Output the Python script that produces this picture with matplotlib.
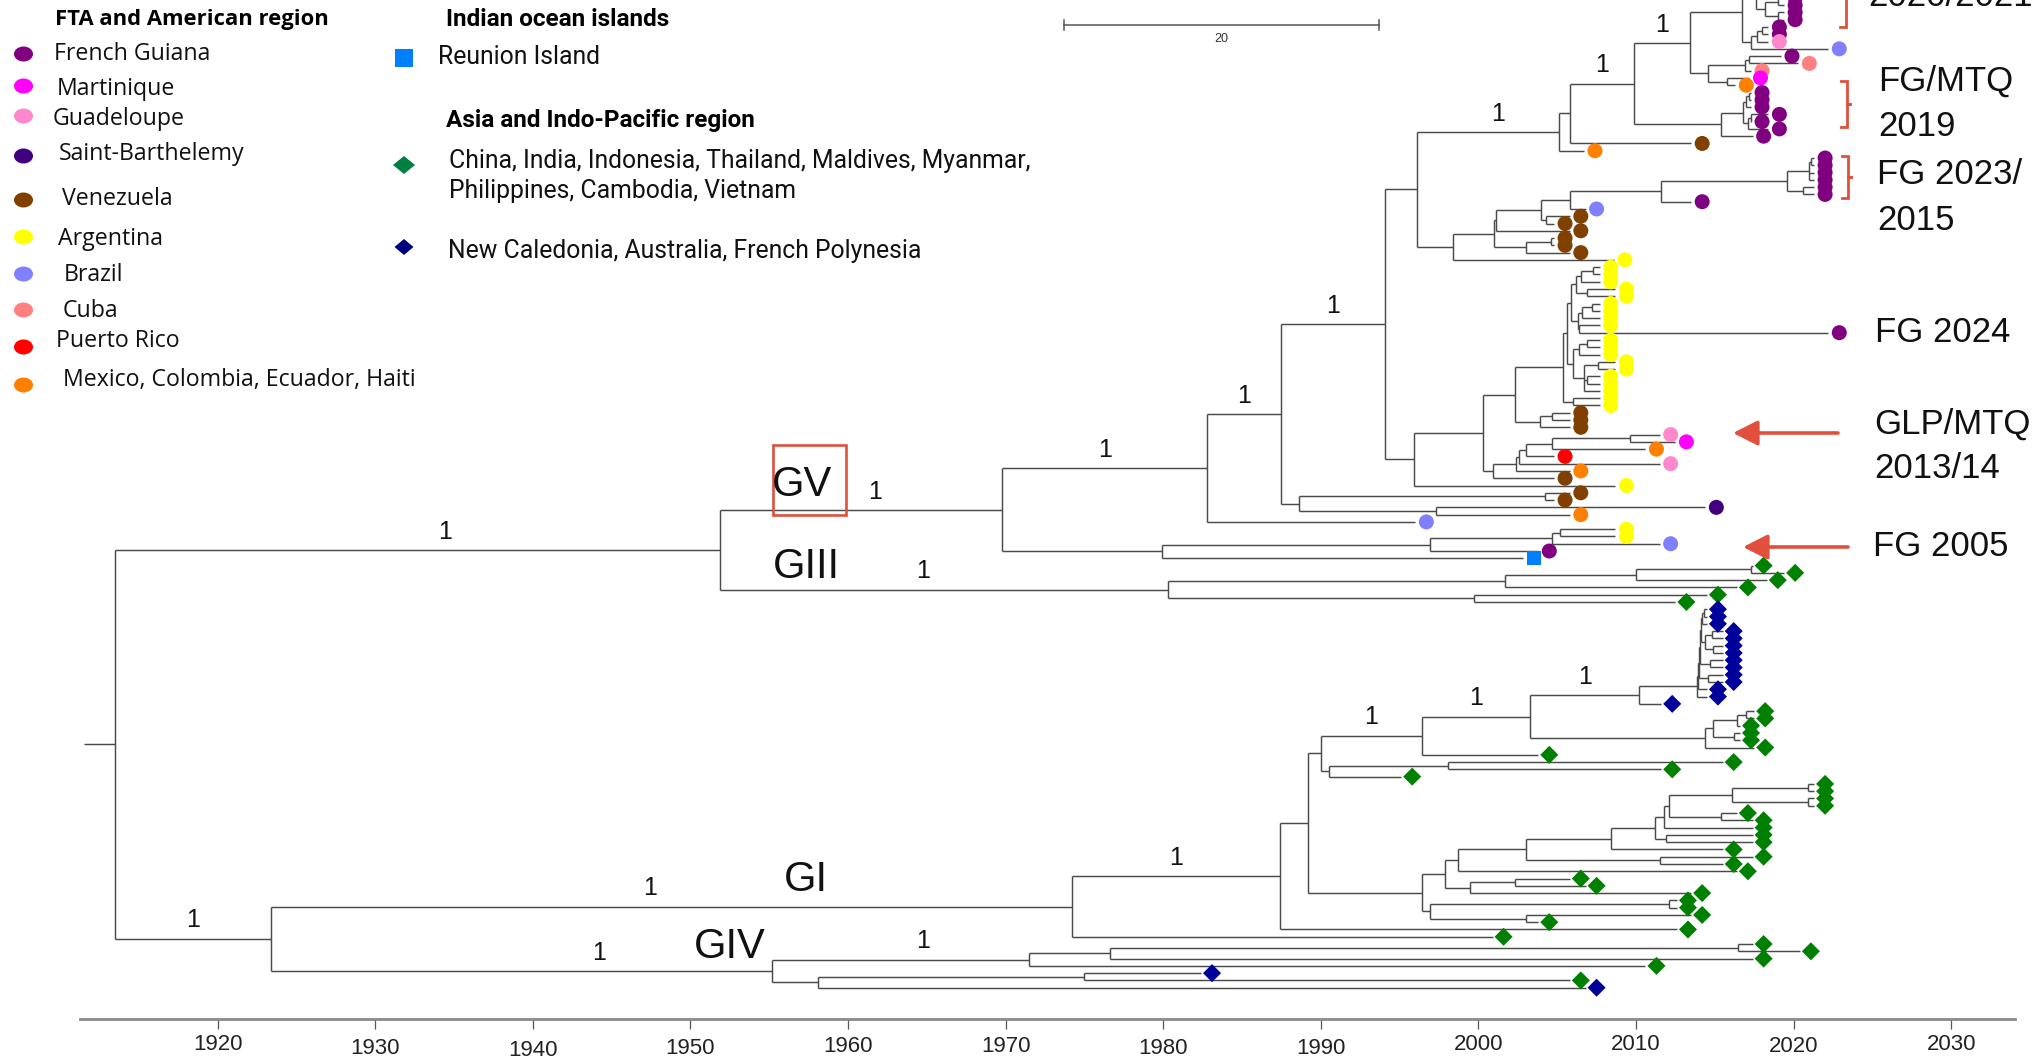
import re
import matplotlib
matplotlib.use("Agg")
import matplotlib.pyplot as plt
import matplotlib.transforms as mtransforms
from matplotlib.collections import LineCollection
from matplotlib.patches import Ellipse, Rectangle, Polygon

# ------------------------------------------------------------------ data
cat_color = {
    'FG': '#800080', 'MTQ': '#FF00FF', 'GLP': '#FF88CC', 'STB': '#40007F',
    'VEN': '#804000', 'ARG': '#FFFF00', 'BRA': '#8080FF', 'CUB': '#FF8080',
    'PRI': '#FF0000', 'MEX': '#FF8000', 'REU': '#0080FF', 'ASIA': '#008000',
    'PAC': '#00009A'}
cat_shape = {'REU': 's', 'ASIA': 'D', 'PAC': 'D'}

# tips, top to bottom (first six lie above the visible frame)
tip_cat = [
    'FG', 'FG', 'FG', 'FG', 'FG', 'FG',
    'FG', 'FG', 'FG', 'FG', 'FG', 'FG', 'GLP', 'BRA',
    'FG', 'CUB', 'CUB', 'MTQ', 'MEX',
    'FG', 'FG', 'FG', 'FG', 'FG', 'FG', 'FG', 'VEN', 'MEX',
    'FG', 'FG', 'FG', 'FG', 'FG', 'FG', 'FG', 'BRA',
    'VEN', 'VEN', 'VEN', 'VEN', 'VEN', 'VEN', 'ARG',
    'ARG', 'ARG', 'ARG', 'ARG', 'ARG', 'ARG', 'ARG', 'ARG', 'ARG', 'FG',
    'ARG', 'ARG', 'ARG', 'ARG', 'ARG', 'ARG', 'ARG', 'ARG', 'ARG', 'ARG',
    'VEN', 'VEN', 'VEN',
    'GLP', 'MTQ', 'MEX', 'PRI', 'GLP', 'MEX', 'VEN', 'ARG',
    'VEN', 'VEN', 'STB', 'MEX', 'BRA',
    'ARG', 'ARG', 'BRA', 'FG', 'REU',
    'ASIA', 'ASIA', 'ASIA', 'ASIA', 'ASIA', 'ASIA',
    'PAC', 'PAC', 'PAC', 'PAC', 'PAC', 'PAC', 'PAC', 'PAC', 'PAC', 'PAC',
    'PAC', 'PAC', 'PAC', 'PAC',
    'ASIA', 'ASIA', 'ASIA', 'ASIA', 'ASIA', 'ASIA', 'ASIA',
    'ASIA', 'ASIA', 'ASIA',
    'ASIA', 'ASIA', 'ASIA', 'ASIA', 'ASIA', 'ASIA', 'ASIA', 'ASIA', 'ASIA',
    'ASIA', 'ASIA', 'ASIA', 'ASIA',
    'ASIA', 'ASIA', 'ASIA', 'ASIA', 'ASIA', 'ASIA', 'ASIA', 'ASIA', 'ASIA',
    'ASIA', 'ASIA', 'ASIA', 'ASIA', 'PAC', 'ASIA', 'PAC']

tip_year = [
    2019.4, 2019.4, 2019.4, 2019.4, 2019.4, 2019.4,
    2019.4, 2019.4, 2019.4, 2019.4, 2018.4, 2018.4, 2018.4, 2022.2,
    2019.2, 2020.3, 2017.3, 2017.2, 2016.3,
    2017.3, 2017.3, 2017.3, 2018.4, 2017.3, 2018.4, 2017.4, 2013.5, 2006.7,
    2021.3, 2021.3, 2021.3, 2021.3, 2021.3, 2021.3, 2013.5, 2006.8,
    2005.8, 2004.8, 2005.8, 2004.8, 2004.8, 2005.8, 2008.6,
    2007.7, 2007.7, 2007.7, 2008.7, 2008.7, 2007.7, 2007.7, 2007.7, 2007.7, 2022.2,
    2007.7, 2007.7, 2007.7, 2008.7, 2008.7, 2007.7, 2007.7, 2007.7, 2007.7, 2007.7,
    2005.8, 2005.8, 2005.8,
    2011.5, 2012.5, 2010.6, 2004.8, 2011.5, 2005.8, 2004.8, 2008.7,
    2005.8, 2004.8, 2014.4, 2005.8, 1996.0,
    2008.7, 2008.7, 2011.5, 2003.8, 2002.8,
    2017.4, 2019.4, 2018.3, 2016.4, 2014.5, 2012.5,
    2014.5, 2014.5, 2014.5, 2015.5, 2015.5, 2015.5, 2015.5, 2015.5, 2015.5, 2015.5,
    2015.5, 2014.5, 2014.5, 2011.6,
    2017.5, 2017.5, 2016.6, 2016.6, 2016.6, 2017.5, 2003.8,
    2015.5, 2011.6, 1995.1,
    2021.3, 2021.3, 2021.3, 2021.3, 2016.4, 2017.4, 2017.4, 2017.4, 2017.4,
    2015.5, 2017.4, 2015.5, 2016.4,
    2005.8, 2006.8, 2013.5, 2012.6, 2012.6, 2013.5, 2003.8, 2012.6, 2000.9,
    2017.4, 2020.4, 2017.4, 2010.6, 1982.4, 2005.8, 2006.8]

# topology: '*' = next tip, number after ')' = node date, '#' = posterior 1 (optional label position)
E_up = "(((*,*)2018.5,(*,*)2018.7)2017.9,((*,*)2018.6,((*,*)2019.0,(*,*)2019.0)2018.2)2017.6)2017.4"
E_low = "(((*,*)2018.0,*)2017.7,*)2017.3"
F_cl = "(((*,*)2017.2,*)2016.9,(*,*)2015.8)2014.6"
G_cl = "((((*,*)2017.2,*)2017.0,((*,*)2017.3,*)2017.1)2016.8,*)2015.4"
B_cl = f"((((({E_up},{E_low})2016.7,{F_cl})2013.4#,{G_cl})2009.9#,*)2005.8,*)2005.1#0.57"
FG23 = "(((*,*)2021.1,*,*)2021.0,(*,*)2020.6)2019.6"
V_cl = f"(((((({FG23},*)2011.6,*)2005.8,(*,*)2004.3)2004.0,*)2001.1,((*,*)2004.6,*)2003.0)2001.0,*)1998.4"
Y4 = "(((*,*)2007.3,*)2006.5,(*,*)2006.9)2006.2"
Y5 = "(((*,*)2007.2,*)2006.6,(*,*)2006.4)2006.3"
Y3 = "(((*,*)2006.9,*)2006.4,((*,*)2007.6,(*,*)2006.9,*)2006.7)2006.0"
ARG_cl = f"((({Y4},{Y5})2005.9,{Y3})2005.6,(*,*)2006.0)2005.4"
CAR_cl = "((((((*,*)2009.6,*)2004.7,*)2003.0,*)2002.6,*)2002.4,*)2000.9"
Y_cl = f"((({ARG_cl},((*,*)2004.7,*)2003.9)2002.3,{CAR_cl})2000.3,*)1995.9"
LOW_cl = "((*,*)2004.2,(*,*)1997.3)1988.6"
FG05 = "((((*,*)2005.2,*)2004.7,*)1996.9,*)1979.9"
GV = f"((((({B_cl},{V_cl})1996.1,{Y_cl})1994.1#,{LOW_cl})1987.5#,*)1982.8#,{FG05})1969.8#0.548"
GIII = "((((*,*)2017.3,*)2010.0,*)2001.7,(*,*)1999.7)1980.3#0.452"
PAC_cl = "(((((((*,*)2014.3,*)2014.2,((*,*)2014.8,(*,*)2014.9)2014.4)2014.1,(*,*)2014.7)2014.05,(*,*)2014.6)2014.0,*)2013.95,*)2013.9"
M6 = "((((*,*)2017.0,*)2016.4,(*,*)2016.2)2014.9,*)2014.4"
M1 = f"(((({PAC_cl},*)2010.2#,{M6})2003.3#,*)1996.4#,((*,*)1998.1,*)1990.5)1990.0"
N11 = "(((*,*)2020.9,(*,*)2020.9)2016.1,(*,*)2015.4)2012.1"
N1 = f"((((((({N11},*)2011.8,(*,*)2011.9)2011.2,*)2008.4,(*,*)2011.5)2003.0,*)1998.7,((*,*)2002.3,*)1999.5)1997.9,((*,*)2012.1,(*,*)2003.0)1996.9)1996.4"
GI = f"((({M1},{N1})1989.2,*)1987.4#,*)1974.2#0.473"
GIV = "((((*,*)2016.5,*)1976.6,*)1971.5#0.586,((*,*)1975.0,*)1958.1)1955.2#0.655"
TREE = f"(({GV},{GIII})1951.9#0.545,({GI},{GIV})1923.4#)1913.5"
root_stem_year = 1911.5

axis_years = [1920, 1930, 1940, 1950, 1960, 1970, 1980, 1990, 2000, 2010, 2020, 2030]
scale_bar_years = 20

legend_am_title = 'FTA and American region'
legend_am_labels = ['French Guiana', 'Martinique', 'Guadeloupe', 'Saint-Barthelemy', 'Venezuela',
                    'Argentina', 'Brazil', 'Cuba', 'Puerto Rico', 'Mexico, Colombia, Ecuador, Haiti']
legend_am_cats = ['FG', 'MTQ', 'GLP', 'STB', 'VEN', 'ARG', 'BRA', 'CUB', 'PRI', 'MEX']
legend_io_title = 'Indian ocean islands'
legend_asia_title = 'Asia and Indo-Pacific region'
legend_asia_lines = ['China, India, Indonesia, Thailand, Maldives, Myanmar,', 'Philippines, Cambodia, Vietnam']
legend_pac_label = 'New Caledonia, Australia, French Polynesia'

right_labels = ['2020/2021', 'FG/MTQ', '2019', 'FG 2023/', '2015', 'FG 2024', 'GLP/MTQ', '2013/14', 'FG 2005']
group_labels = ['GV', 'GIII', 'GI', 'GIV']

# ------------------------------------------------------------------ parse tree
_tok = re.compile(r'([0-9.]+)(#([0-9.]*))?')


def parse(s):
    pos = 0
    used = [0]

    def rec():
        nonlocal pos
        if s[pos] == '*':
            pos += 1
            k = used[0]
            used[0] += 1
            return {'x': tip_year[k], 'y': float(k), 'kids': [], 'cat': tip_cat[k]}
        pos += 1
        kids = [rec()]
        while s[pos] == ',':
            pos += 1
            kids.append(rec())
        pos += 1
        m = _tok.match(s, pos)
        pos = m.end()
        return {'x': float(m.group(1)), 'kids': kids,
                'y': (kids[0]['y'] + kids[-1]['y']) / 2.0,
                'sup': m.group(2) is not None,
                'frac': float(m.group(3)) if m.group(3) else 0.5}
    r = rec()
    assert pos == len(s), (pos, len(s))
    assert used[0] == len(tip_year) == len(tip_cat), (used[0], len(tip_year), len(tip_cat))
    return r


root = parse(TREE)

# ------------------------------------------------------------------ figure
W, H = 2038, 1059
fig = plt.figure(figsize=(W / 100, H / 100), dpi=100)
AX_L, AX_R, AX_B = 80, 2015, 1019
ax = fig.add_axes([AX_L / W, (H - AX_B) / H, (AX_R - AX_L) / W, AX_B / H])
ax.set_xlim(1911.27, 2034.05)
ax.set_ylim(146.30, 6.289)

NARROW = ['Liberation Sans Narrow', 'Liberation Sans', 'DejaVu Sans']
LABEL_FONT = ['Liberation Sans', 'DejaVu Sans']
LEG_FONT = ['Open Sans', 'DejaVu Sans']
MID_FONT = ['Roboto', 'DejaVu Sans']
RED = '#E0503C'
BRANCH = '#4a4a4a'

segs, sups, tips = [], [], []


def walk(n, px):
    segs.append([(px, n['y']), (n['x'], n['y'])])
    if n['kids']:
        segs.append([(n['x'], n['kids'][0]['y']), (n['x'], n['kids'][-1]['y'])])
        if n['sup']:
            sups.append((px + n['frac'] * (n['x'] - px), n['y']))
        for c in n['kids']:
            walk(c, n['x'])
    else:
        tips.append(n)


walk(root, root_stem_year)
ax.add_collection(LineCollection(segs, colors=BRANCH, linewidths=1.05, zorder=1))

MOFF = 0.7
for shape, size in (('o', 10.8), ('s', 9.6), ('D', 9.2)):
    sel = [t for t in tips if cat_shape.get(t['cat'], 'o') == shape]
    if sel:
        ax.scatter([t['x'] + MOFF for t in sel], [t['y'] for t in sel], s=size ** 2,
                   marker=shape, c=[cat_color[t['cat']] for t in sel], linewidths=0, zorder=3)

for x, y in sups:
    ax.text(x, y - 2.5, '1', ha='center', va='center', fontsize=18, family=NARROW, color='#111111')

for sp in ('top', 'left', 'right'):
    ax.spines[sp].set_visible(False)
ax.spines['bottom'].set_color('#8a8a8a')
ax.spines['bottom'].set_linewidth(2.0)
ax.set_yticks([])
ax.set_xticks(axis_years)
ax.tick_params(axis='x', length=7, width=0.9, color='#555555', labelbottom=False)
tick_dy = [0, 3, 5, 3, 1, 1, 3, 3, 0, -1, 2, -1]
for yr, dy in zip(axis_years, tick_dy):
    ax.text(yr, (AX_B - (1045 + dy)) / AX_B, str(yr), transform=ax.get_xaxis_transform(),
            ha='center', va='center', fontsize=16, family=NARROW, color='#222222')

# ------------------------------------------------------------------ overlay (pixel coords)
ov = fig.add_axes([0, 0, 1, 1], facecolor='none')
ov.set_xlim(0, W)
ov.set_ylim(H, 0)
ov.axis('off')
renderer = fig.canvas.get_renderer()


def fit_size(s, width, **kw):
    t = ov.text(0, 0, s, fontsize=20, **kw)
    w = t.get_window_extent(renderer).width
    t.remove()
    return 20.0 * width / w


# scale bar (20 years, drawn on the tree's time scale)
bt = mtransforms.blended_transform_factory(ax.transData, ov.transData)
sb0 = 1973.7
ov.plot([sb0, sb0 + scale_bar_years], [25, 25], color='#555555', lw=1.1, transform=bt)
for xx in (sb0, sb0 + scale_bar_years):
    ov.plot([xx, xx], [20, 30], color='#555555', lw=1.1, transform=bt)
ov.text(sb0 + scale_bar_years / 2, 39, str(scale_bar_years), transform=bt, ha='center',
        va='center', fontsize=9, family=NARROW, color='#333333')

# left legend
fs_am = fit_size(legend_am_labels[-1], 352, family=LEG_FONT)
fs_am_t = fit_size(legend_am_title, 273, family=LEG_FONT, weight='bold')
ov.text(55, 20, legend_am_title, fontsize=fs_am_t, family=LEG_FONT, weight='bold', va='center')
am_tx = [54, 57, 53, 59, 62, 58, 64, 63, 56, 63]
am_ty = [54, 89, 119, 154, 199, 239, 275, 311, 341, 380]
am_my = [54, 86, 116, 156, 200, 237, 274, 310, 347, 385]
for lab, cat, tx, ty, my in zip(legend_am_labels, legend_am_cats, am_tx, am_ty, am_my):
    ov.add_patch(Ellipse((23.5, my), 19, 15, color=cat_color[cat], lw=0))
    ov.text(tx, ty, lab, fontsize=fs_am, family=LEG_FONT, va='center', color='#111111')

# middle legend
fs_mid = fit_size(legend_asia_lines[0], 582, family=MID_FONT)
fs_mid_t = fit_size(legend_asia_title, 309, family=MID_FONT, weight='bold')
ov.text(446, 20, legend_io_title, fontsize=fs_mid_t, family=MID_FONT, weight='bold', va='center')
ov.add_patch(Rectangle((395, 49), 18, 18, color=cat_color['REU'], lw=0))
ov.text(438, 57, 'Reunion Island', fontsize=fs_mid, family=MID_FONT, va='center', color='#111111')
ov.text(446, 120, legend_asia_title, fontsize=fs_mid_t, family=MID_FONT, weight='bold', va='center')
ov.add_patch(Polygon([(393, 165), (404, 156), (415, 165), (404, 174)], closed=True,
                     color='#008040', lw=0))
ov.text(449, 161, legend_asia_lines[0], fontsize=fs_mid, family=MID_FONT, va='center', color='#111111')
ov.text(449, 191, legend_asia_lines[1], fontsize=fs_mid, family=MID_FONT, va='center', color='#111111')
ov.add_patch(Polygon([(394.5, 247), (404, 239), (413.5, 247), (404, 255)], closed=True,
                     color='#000080', lw=0))
ov.text(448, 251, legend_pac_label, fontsize=fs_mid, family=MID_FONT, va='center', color='#111111')

# right annotations
rl_x = [1868, 1878, 1878, 1877, 1877, 1875, 1874, 1874, 1873]
rl_y = [-3, 81, 126, 174, 220, 333, 424, 469, 547]
for s, x, y in zip(right_labels, rl_x, rl_y):
    ov.text(x, y, s, fontsize=25, family=LABEL_FONT, va='center', ha='left', color='#111111')

for xv, top, bot in ((1846, -45, 27), (1847, 81, 127), (1848, 156, 198)):
    mid = (top + bot) / 2
    ov.plot([xv - 6, xv, xv, xv + 4, xv, xv, xv - 6], [top, top, mid, mid, mid, bot, bot],
            color=RED, lw=2.0, solid_joinstyle='miter')

for x0, x1, y in ((1838, 1733, 433), (1848, 1743, 547)):
    ov.annotate('', xy=(x1, y), xytext=(x0, y),
                arrowprops=dict(arrowstyle='-|>,head_length=0.75,head_width=0.38', color=RED,
                                lw=2.6, shrinkA=0, shrinkB=0, mutation_scale=20))

ov.add_patch(Rectangle((773, 445), 73, 70, fill=False, ec=RED, lw=1.9))
for s, x, y in zip(group_labels, [802, 806, 806, 730], [485, 567, 880, 947]):
    ov.text(x, y, s, fontsize=30, family=NARROW, ha='center', va='center', color='#111111')

fig.savefig('out.png', dpi=100)
